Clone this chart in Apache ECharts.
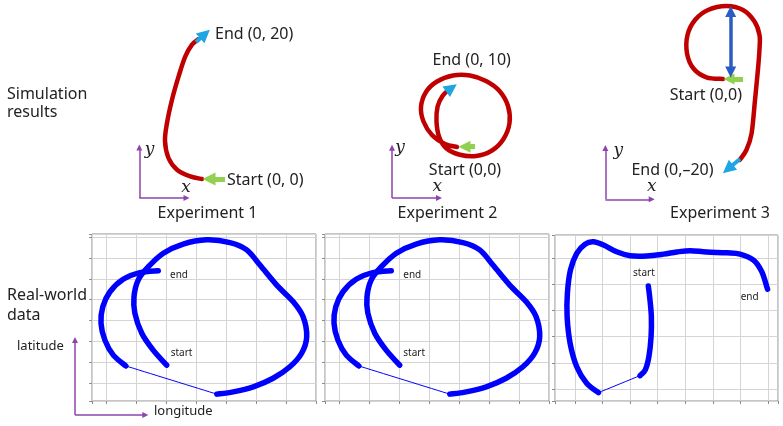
<!DOCTYPE html>
<html>
<head>
<meta charset="utf-8">
<script src="https://cdn.jsdelivr.net/npm/echarts@6/dist/echarts.min.js"></script>
<style>
html,body{margin:0;padding:0;background:#fff;}
#main{width:783px;height:426px;}
</style>
</head>
<body>
<div id="main"></div>
<script>
// 真实数据 (grid units: one unit = one grid cell)
var realInner=[[2.0,0.86],[1.55,1.58],[1.17,2.39],[0.94,3.35],[0.91,4.14],[1.05,4.94],[1.39,5.58],[1.89,6.23],[2.55,6.67],[3.33,6.87],[4.11,6.74],[4.67,6.39],[5.11,5.66],[5.67,4.70],[6.22,3.90],[6.55,3.18],[6.67,2.22],[6.5,1.43],[6.11,0.78],[5.55,0.23],[4.89,-0.18],[4.22,-0.42],[3.67,-0.53]];
var realLink=[[3.67,-0.53],[0.64,0.82]];
var realOuter=[[0.64,0.82],[0.22,1.34],[-0.06,2.06],[-0.19,2.87],[-0.13,3.66],[0.11,4.38],[0.55,4.98],[1.11,5.30],[1.72,5.39]];

var real3Inner=[[2.66,3.93],[2.72,3.40],[2.77,2.76],[2.76,2.00],[2.68,1.23],[2.55,0.73],[2.36,0.51]];
var real3Link=[[2.36,0.51],[0.85,-0.14]];
var real3Outer=[[0.85,-0.14],[0.42,0.22],[0.06,0.85],[-0.18,1.74],[-0.29,2.76],[-0.28,3.65],[-0.17,4.54],[0.06,5.18],[0.36,5.53],[0.66,5.62],[1.03,5.50],[1.51,5.24],[2.00,5.09],[2.60,5.08],[3.21,5.15],[3.69,5.23],[4.18,5.28],[4.78,5.23],[5.51,5.20],[5.99,5.15],[6.48,4.92],[6.78,4.48],[6.99,3.81]];

// 仿真结果 (local units, start = origin)
var exp1Path=[[0,0],[-11.7,2.6],[-25,9.3],[-33.5,21],[-37,38],[-35,56],[-30,79.3],[-23.4,102.6],[-16.7,122.6],[-10,134.3],[-4,139.5]];
var exp2Path=[[0,0],[-12,3],[-25,12],[-33.5,25.5],[-36,40],[-31,55],[-20,65.5],[-4,71.5],[13,71.5],[29,66],[42.5,56],[51,41],[52.5,24],[46.5,8],[35,-3.5],[19,-9],[2,-7.5],[-11,-1],[-18,10.6],[-20.5,25.6],[-19.4,40.6],[-14.5,51],[-8,57.5]];
var exp3Path=[[0,0],[-16.6,1.7],[-29.5,10.5],[-36,25.7],[-35.5,44],[-28,59],[-15,69],[3.4,73],[20,69],[31.5,57.5],[36.5,44],[36.5,30],[35,10],[32,-21],[28.6,-54.3],[23.4,-71],[16.7,-81]];

var exp1Start=[[23,0],[7,0]];
var exp1End=[[-6,137],[3,145]];
var exp1AxisY=[[-62.7,-19],[-62.7,31.5]];
var exp1AxisX=[[-62.7,-19],[-15.5,-19]];

var exp2Start=[[18,0.3],[7.5,0.3]];
var exp2End=[[-9,56.5],[-5.5,59]];
var exp2AxisY=[[-65,-51],[-65,-0.8]];
var exp2AxisX=[[-65,-51],[-18,-51]];

var exp3Start=[[20,0],[6,0]];
var exp3End=[[17,-80],[4.9,-90]];
var exp3Span=[[7.7,7],[7.7,67.5]];
var exp3AxisY=[[-117.6,-120.3],[-117.6,-69]];
var exp3AxisX=[[-117.6,-120.3],[-71.3,-120.3]];

var lonLatY=[[-1.057,-1.536],[-1.057,2.06]];
var lonLatX=[[-1.057,-1.536],[1.287,-1.536]];

var RED='#c00000',CYAN='#1ea5e3',GREEN='#92d050',PURPLE='#8e44ad',NAVY='#2a5cc4',BLUE='#0000ff';
var FONT='"Noto Sans", sans-serif';

function panelAxis(min,max,idx){
	return {type:'value',gridIndex:idx,min:min,max:max,minInterval:1,maxInterval:1,splitNumber:8,
		axisLabel:{show:false},axisLine:{show:false,onZero:false},
		axisTick:{show:true,length:3,lineStyle:{color:'#8c8c8c'}},
		splitLine:{show:true,lineStyle:{color:'#d4d4d4',width:1}}};
}
function hiddenAxis(min,max,idx){
	return {type:'value',gridIndex:idx,min:min,max:max,show:false,axisLine:{onZero:false},splitLine:{show:false}};
}
// 曲线：通过各点的平滑路径 (Catmull-Rom)
function curve(data,idx,color,w){
	return {type:'custom',coordinateSystem:'cartesian2d',xAxisIndex:idx,yAxisIndex:idx,silent:true,clip:false,
		data:[data[0]],
		renderItem:function(params,api){
			var p=data.map(function(d){return api.coord(d);});
			var s='M'+p[0][0]+' '+p[0][1];
			for(var i=0;i<p.length-1;i++){
				var p0=p[i-1]||p[i],p1=p[i],p2=p[i+1],p3=p[i+2]||p[i+1];
				s+=' C'+(p1[0]+(p2[0]-p0[0])/6)+' '+(p1[1]+(p2[1]-p0[1])/6)+' '
					+(p2[0]-(p3[0]-p1[0])/6)+' '+(p2[1]-(p3[1]-p1[1])/6)+' '+p2[0]+' '+p2[1];
			}
			return {type:'path',shape:{pathData:s},
				style:{stroke:color,lineWidth:w,fill:null,lineCap:'round',lineJoin:'round'}};
		}};
}
function arrow(coords,idx,color,w,size,both){
	return {type:'lines',coordinateSystem:'cartesian2d',xAxisIndex:idx,yAxisIndex:idx,clip:false,silent:true,
		symbol:[both?'triangle':'none','triangle'],symbolSize:size,
		lineStyle:{color:color,width:w,opacity:1,curveness:0},
		data:[{coords:coords}]};
}
function txt(s,x,y,size,align){
	return {type:'text',x:x,y:y,silent:true,
		style:{text:s,font:size+'px '+FONT,fill:'#222',align:align||'left',verticalAlign:'middle'}};
}
function itxt(s,x,y){
	return {type:'text',x:x,y:y,silent:true,style:{text:s,font:'italic 17px "DejaVu Serif", serif',fill:'#222',align:'center',verticalAlign:'middle'}};
}

var myChart=echarts.init(document.getElementById('main'));
var option={
	animation:false,
	backgroundColor:'#fff',
	grid:[
		{left:92,top:234,width:224,height:167,show:true,borderColor:'#8c8c8c',borderWidth:1,backgroundColor:'#fff'},
		{left:325,top:234,width:224,height:167,show:true,borderColor:'#8c8c8c',borderWidth:1,backgroundColor:'#fff'},
		{left:555,top:235,width:223,height:166,show:true,borderColor:'#8c8c8c',borderWidth:1,backgroundColor:'#fff'},
		{left:132,top:0,width:190,height:225},
		{left:357,top:0,width:180,height:225},
		{left:573,top:0,width:210,height:225}
	],
	xAxis:[panelAxis(-0.49,6.98,0),panelAxis(-0.49,6.98,1),panelAxis(-0.73,7.37,2),
		hiddenAxis(-70,120,3),hiddenAxis(-100,80,4),hiddenAxis(-150,60,5)],
	yAxis:[panelAxis(-0.86,7.15,0),panelAxis(-0.86,7.15,1),panelAxis(-0.46,5.88,2),
		hiddenAxis(-46,179,3),hiddenAxis(-78,147,4),hiddenAxis(-146,79,5)],
	series:[
		curve(realInner,0,BLUE,5.5),curve(realLink,0,BLUE,1),curve(realOuter,0,BLUE,5.5),
		curve(realInner,1,BLUE,5.5),curve(realLink,1,BLUE,1),curve(realOuter,1,BLUE,5.5),
		curve(real3Inner,2,BLUE,5.5),curve(real3Link,2,BLUE,1),curve(real3Outer,2,BLUE,5.5),
		arrow(lonLatY,0,PURPLE,1.5,6),arrow(lonLatX,0,PURPLE,1.5,6),

		curve(exp1Path,3,RED,4.5),arrow(exp1Start,3,GREEN,5,13),arrow(exp1End,3,CYAN,4,13),
		arrow(exp1AxisY,3,PURPLE,1.5,6),arrow(exp1AxisX,3,PURPLE,1.5,6),

		curve(exp2Path,4,RED,4.5),arrow(exp2Start,4,GREEN,5,12),arrow(exp2End,4,CYAN,4,13),
		arrow(exp2AxisY,4,PURPLE,1.5,6),arrow(exp2AxisX,4,PURPLE,1.5,6),

		curve(exp3Path,5,RED,4.5),arrow(exp3Start,5,GREEN,5,11),arrow(exp3Span,5,NAVY,3.5,11,true),arrow(exp3End,5,CYAN,4,13),
		arrow(exp3AxisY,5,PURPLE,1.5,6),arrow(exp3AxisX,5,PURPLE,1.5,6)
	],
	graphic:[
		txt('Simulation',7,94,16),txt('results',7,112.5,16),
		txt('Real-world',7,295,16),txt('data',7,315,16),
		txt('latitude',17,346.5,13),txt('longitude',154,411,13),

		txt('End (0, 20)',215,34,16),txt('Start (0, 0)',227,180,16),txt('Experiment 1',207.5,213,16,'center'),
		itxt('y',149.5,150),itxt('x',186,188),
		txt('End (0, 10)',471.7,60,16,'center'),txt('Start (0,0)',465,170,16,'center'),txt('Experiment 2',447.5,213,16,'center'),
		itxt('y',400,148),itxt('x',437.3,186.5),
		txt('Start (0,0)',705.8,95,16,'center'),txt('End (0,\u201320)',672.5,170,16,'center'),txt('Experiment 3',720,213,16,'center'),
		itxt('y',618.3,150.5),itxt('x',651.7,186.5),

		txt('end',170,275,10),txt('start',170.7,353,10),
		txt('end',403.3,275,10),txt('start',403.3,353,10),
		txt('start',633,272.7,10),txt('end',740.7,296.7,10)
	]
};
myChart.setOption(option);
</script>
</body>
</html>
